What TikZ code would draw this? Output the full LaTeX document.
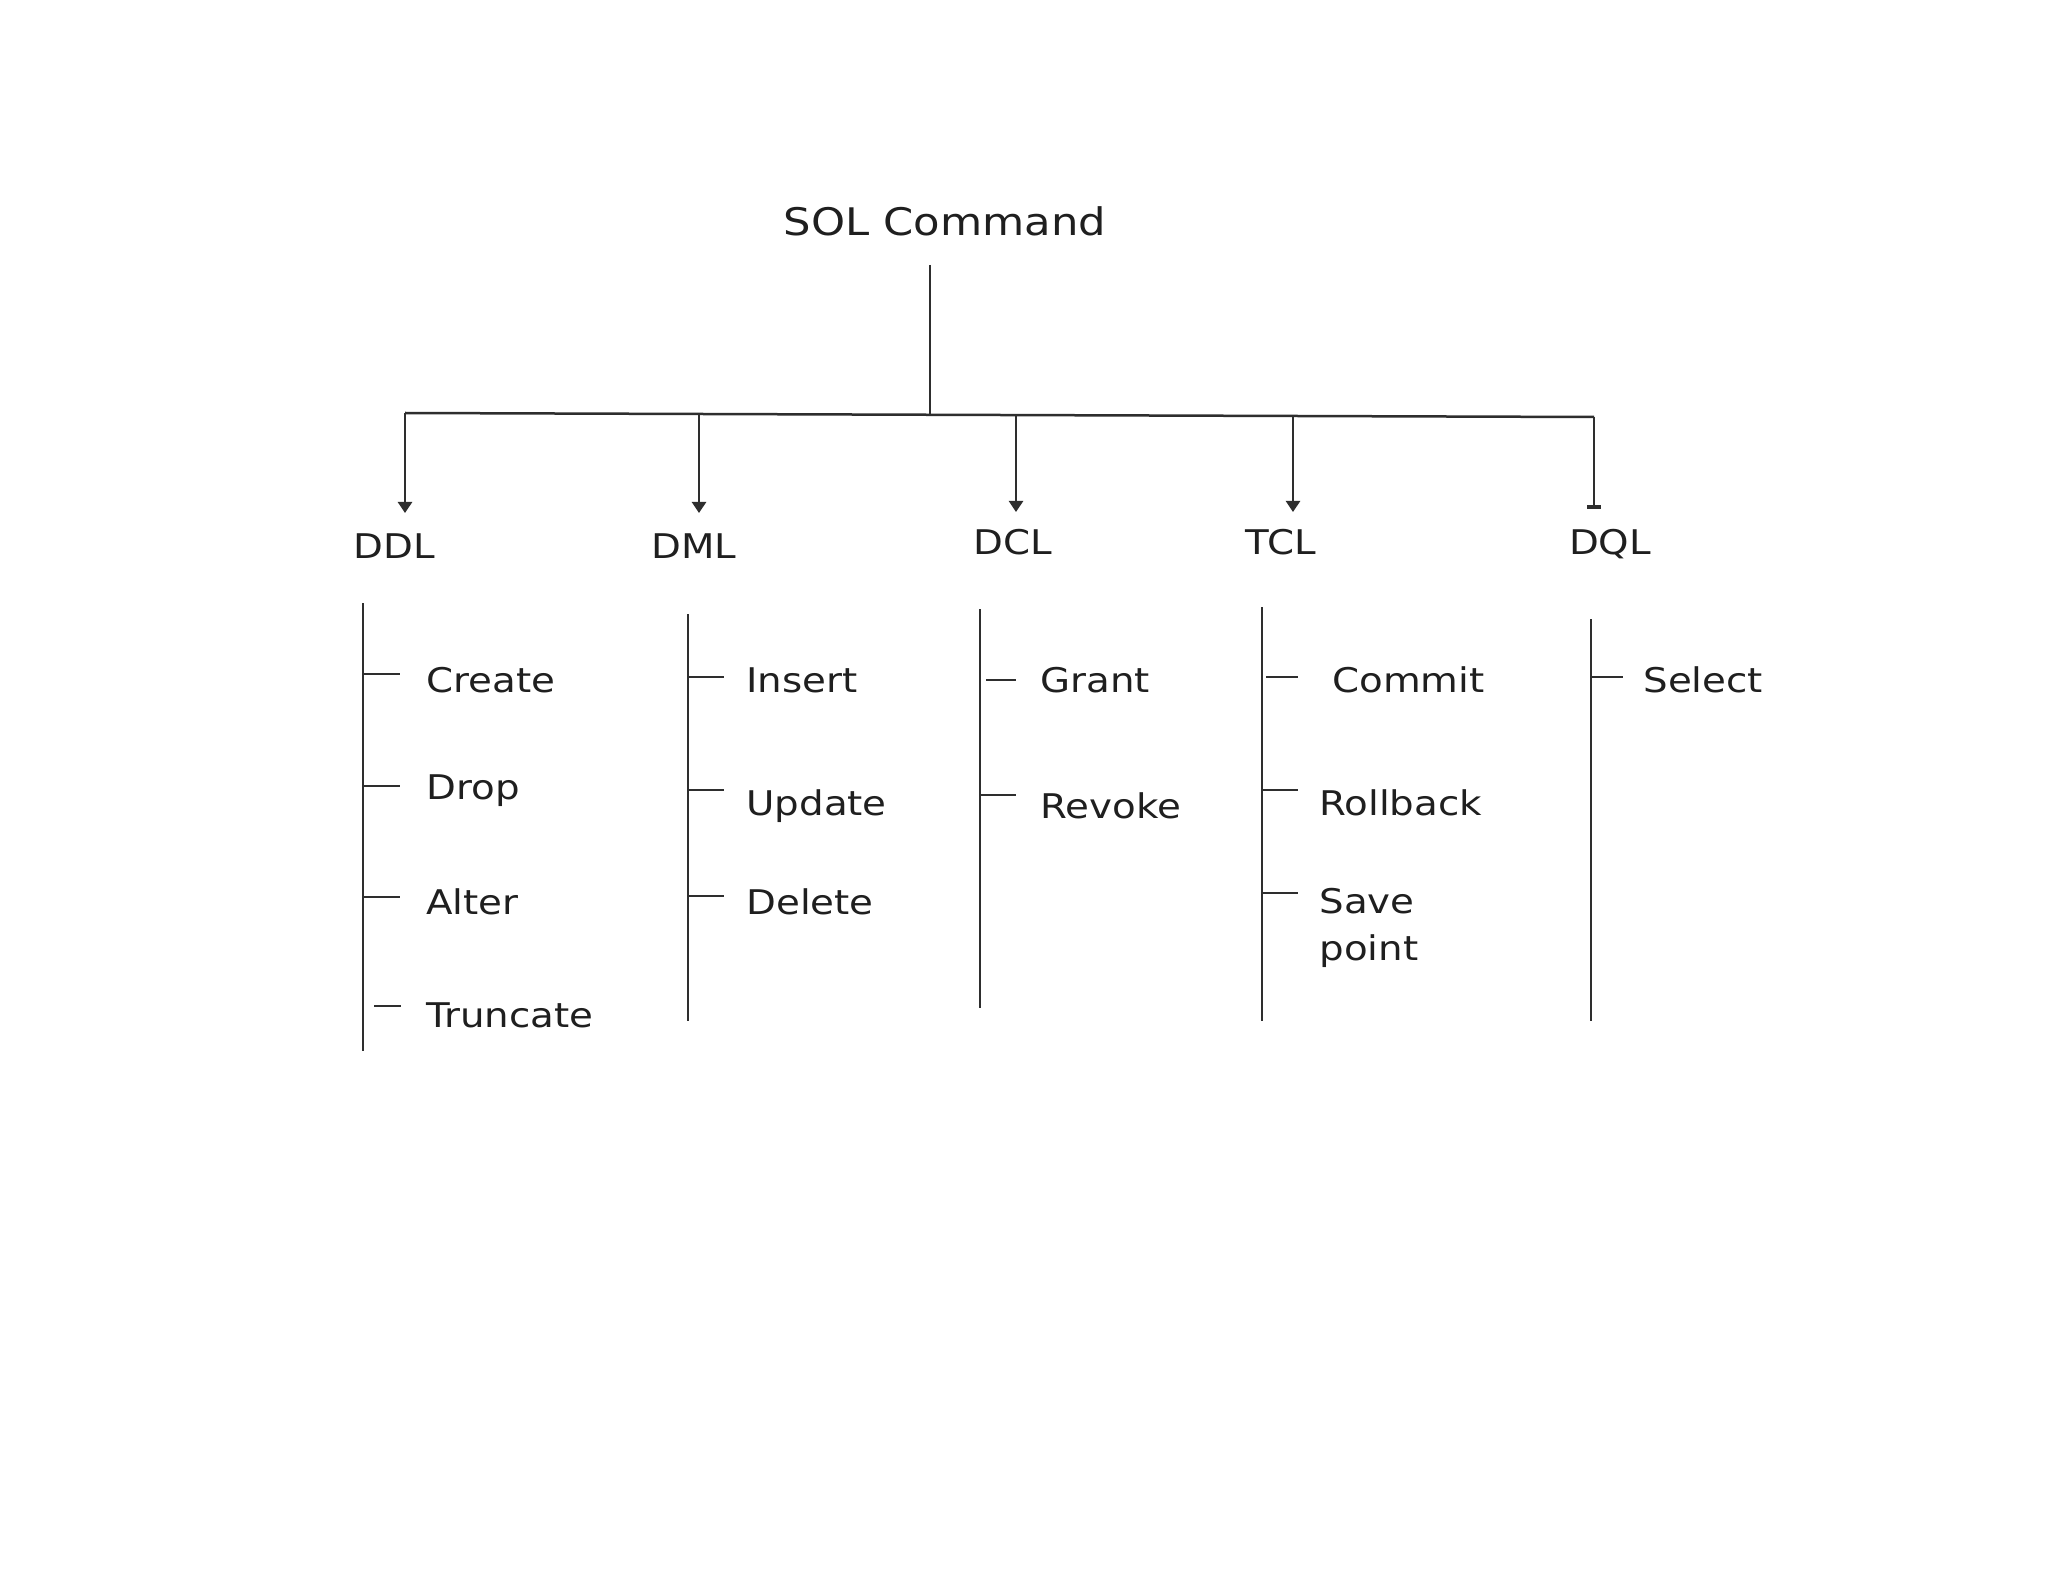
\documentclass[tikz,border=0pt]{standalone}
\usepackage{fontspec}
\setmainfont[FakeStretch=1.14]{DejaVu Sans}
\usetikzlibrary{arrows.meta}
\begin{document}
\begin{tikzpicture}[x=0.5pt,y=-0.5pt,
  ln/.style={draw=black!82, line width=1.25pt},
  arr/.style={ln, -{Triangle[width=7pt,length=5.5pt]}},
  flat/.style={ln, -{Rectangle[width=7pt,length=1.8pt]}},
  lbl/.style={inner sep=0pt, anchor=base, font=\fontsize{17}{20}\selectfont, text=black!88},
  item/.style={inner sep=0pt, anchor=base west, font=\fontsize{17}{23.5}\selectfont, text=black!88, align=left},
]
\useasboundingbox[fill=white] (0,0) rectangle (2048,1582);

% title
\node[lbl, font=\fontsize{19}{22}\selectfont] (title) at (945,236) {SOL Command};
\coordinate (stemtop) at (930,265);
\coordinate (stembot) at (930,414);
\draw[ln] (stemtop) -- (stembot);

% bar
\coordinate (b1) at (405,413);
\coordinate (b2) at (699,413.5);
\coordinate (b3) at (1016,415);
\coordinate (b4) at (1293,416);
\coordinate (b5) at (1594,417);
\draw[ln] (b1) -- (b5);

% category labels
\node[lbl] (ddl) at (394,559) {DDL};
\node[lbl] (dml) at (694,559) {DML};
\node[lbl] (dcl) at (1013,555) {DCL};
\node[lbl] (tcl) at (1281,555) {TCL};
\node[lbl] (dql) at (1610,555) {DQL};

% arrows
\coordinate (a1) at (405,513);
\coordinate (a2) at (699,513);
\coordinate (a3) at (1016,512);
\coordinate (a4) at (1293,512);
\coordinate (a5) at (1594,509);
\draw[arr] (b1) -- (a1);
\draw[arr] (b2) -- (a2);
\draw[arr] (b3) -- (a3);
\draw[arr] (b4) -- (a4);
\draw[flat] (b5) -- (a5);

% DDL column
\draw[ln] (363,603) -- (363,1051);
\draw[ln] (363,674) -- (400,674);
\draw[ln] (363,786) -- (400,786);
\draw[ln] (363,897) -- (400,897);
\draw[ln] (374,1006) -- (401,1006);
\node[item] (create) at (426,692) {Create};
\node[item] (drop) at (426,799) {Drop};
\node[item] (alter) at (426,914) {Alter};
\node[item] (truncate) at (426,1027) {Truncate};

% DML column
\draw[ln] (688,614) -- (688,1021);
\draw[ln] (688,677) -- (724,677);
\draw[ln] (688,790) -- (724,790);
\draw[ln] (688,896) -- (724,896);
\node[item] (insert) at (746,692) {Insert};
\node[item] (update) at (746,815) {Update};
\node[item] (delete) at (746,914) {Delete};

% DCL column
\draw[ln] (980,609) -- (980,1008);
\draw[ln] (986,680) -- (1016,680);
\draw[ln] (980,795) -- (1016,795);
\node[item] (grant) at (1040,692) {Grant};
\node[item] (revoke) at (1040,818) {Revoke};

% TCL column
\draw[ln] (1262,607) -- (1262,1021);
\draw[ln] (1266,677) -- (1298,677);
\draw[ln] (1262,790) -- (1298,790);
\draw[ln] (1262,893) -- (1298,893);
\node[item] (commit) at (1332,692) {Commit};
\node[item] (rollback) at (1319,815) {Rollback};
\node[item] (save) at (1319,960) {Save\\point};

% DQL column
\draw[ln] (1591,619) -- (1591,1021);
\draw[ln] (1591,677) -- (1623,677);
\node[item] (select) at (1643,692) {Select};
\end{tikzpicture}
\end{document}
